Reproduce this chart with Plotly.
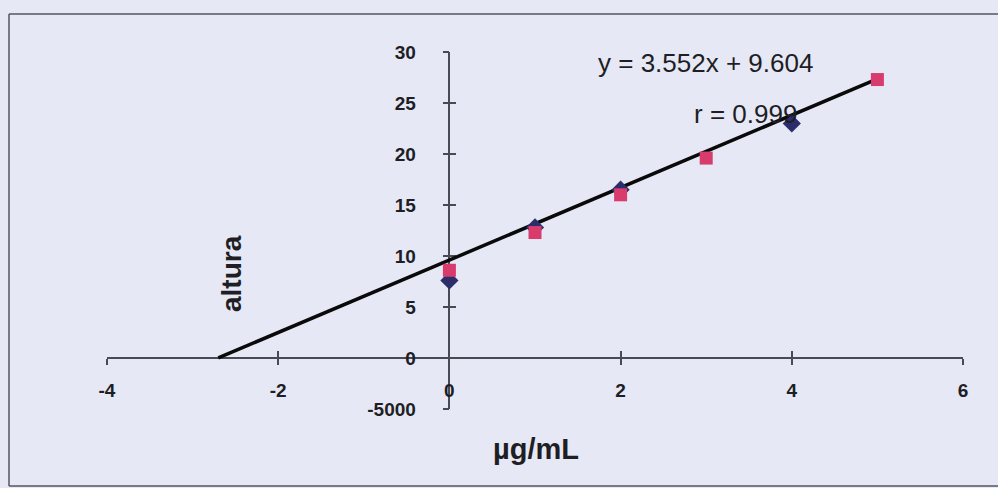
import plotly.graph_objects as go

# Calibration data: concentration (µg/mL) vs peak height
conc_a = [0, 1, 2, 4]
altura_a = [7.6, 12.8, 16.5, 23.0]
conc_b = [0, 1, 2, 3, 5]
altura_b = [8.6, 12.3, 16.0, 19.6, 27.3]

# Regression line as stated in the equation label
slope = 3.552
intercept = 9.604
r_value = 0.999
fit_x = [-2.7, 5.0]
fit_y = [slope * x + intercept for x in fit_x]

x_ticks = [-4, -2, 0, 2, 4, 6]
x_ticktext = ["-4", "-2", "0", "2", "4", "6"]
y_ticks = [-5, 0, 5, 10, 15, 20, 25, 30]
y_ticktext = ["-5000", "0", "5", "10", "15", "20", "25", "30"]

x_range = [-4, 6]
y_range = [-5, 30]

W, H = 998, 488
BG = "#e6e8f5"
AXIS = "#4a4a55"
TXT = "#1e1e24"

x_dom = [107 / W, 963 / W]
y_dom = [1 - 409 / H, 1 - 52 / H]
# axes cross at the origin
x_axis_pos = y_dom[0] + (y_dom[1] - y_dom[0]) * (0 - y_range[0]) / (y_range[1] - y_range[0])
y_axis_pos = x_dom[0] + (x_dom[1] - x_dom[0]) * (0 - x_range[0]) / (x_range[1] - x_range[0])

fig = go.Figure()

fig.add_trace(go.Scatter(
    x=fit_x, y=fit_y, mode="lines",
    line=dict(color="#0a0a0a", width=3.5), hoverinfo="skip"))
fig.add_trace(go.Scatter(
    x=conc_a, y=altura_a, mode="markers",
    marker=dict(symbol="diamond", size=14, color="#2c2e6c")))
fig.add_trace(go.Scatter(
    x=conc_b, y=altura_b, mode="markers",
    marker=dict(symbol="square", size=13, color="#d83c6c")))
# companion axes carrying the inner half of the crossing ticks
fig.add_trace(go.Scatter(x=[None], y=[None], xaxis="x2", yaxis="y2",
                         showlegend=False, hoverinfo="skip"))

tick_font = dict(family="Liberation Sans", size=19, color=TXT, weight="bold")
common = dict(showgrid=False, zeroline=False, showline=True, linecolor=AXIS,
              linewidth=1.5, tickcolor=AXIS, tickwidth=1.5, ticklen=6,
              layer="below traces", automargin=False)

fig.update_layout(
    width=W, height=H, margin=dict(l=0, r=0, t=0, b=0, autoexpand=False),
    paper_bgcolor=BG, plot_bgcolor="rgba(0,0,0,0)", showlegend=False,
    xaxis=dict(domain=x_dom, range=x_range, anchor="free", position=x_axis_pos,
               tickvals=x_ticks, ticktext=x_ticktext, ticks="outside",
               tickfont=tick_font, ticklabelstandoff=9, **common),
    yaxis=dict(domain=y_dom, range=y_range, anchor="free", position=y_axis_pos,
               tickvals=y_ticks, ticktext=y_ticktext, ticks="outside",
               tickfont=tick_font, ticklabelstandoff=23, **common),
    xaxis2=dict(domain=x_dom, range=x_range, anchor="free", position=x_axis_pos,
                overlaying="x", tickvals=x_ticks, ticks="inside",
                showticklabels=False, **common),
    yaxis2=dict(domain=y_dom, range=y_range, anchor="free", position=y_axis_pos,
                overlaying="y", tickvals=y_ticks, ticks="inside",
                showticklabels=False, **common),
)

# chart frame
frame = dict(color="#56565e", width=1.5)
fig.add_shape(type="line", xref="paper", yref="paper",
              x0=9 / W, x1=1.01, y0=1 - 14 / H, y1=1 - 14 / H, line=frame)
fig.add_shape(type="line", xref="paper", yref="paper",
              x0=9 / W, x1=9 / W, y0=1 - 14 / H, y1=1 - 486 / H, line=frame)
fig.add_shape(type="line", xref="paper", yref="paper",
              x0=9 / W, x1=1.01, y0=1 - 486 / H, y1=1 - 486 / H, line=frame)

label = dict(xref="paper", yref="paper", showarrow=False,
             xanchor="center", yanchor="middle")

# axis titles
fig.add_annotation(text="altura", x=231 / W, y=1 - 274 / H, textangle=-90,
                   font=dict(family="Liberation Sans", size=28, color=TXT, weight="bold"),
                   **label)
fig.add_annotation(text="µg/mL", x=536 / W, y=1 - 449 / H,
                   font=dict(family="Liberation Sans", size=29, color=TXT, weight="bold"),
                   **label)

# regression annotations
fig.add_annotation(text=f"y = {slope}x + {intercept}", x=705 / W, y=1 - 63 / H,
                   font=dict(family="Liberation Sans", size=26, color=TXT), **label)
fig.add_annotation(text=f"r = {r_value}", x=745 / W, y=1 - 114 / H,
                   font=dict(family="Liberation Sans", size=26, color=TXT), **label)

fig.write_html("out.html")
